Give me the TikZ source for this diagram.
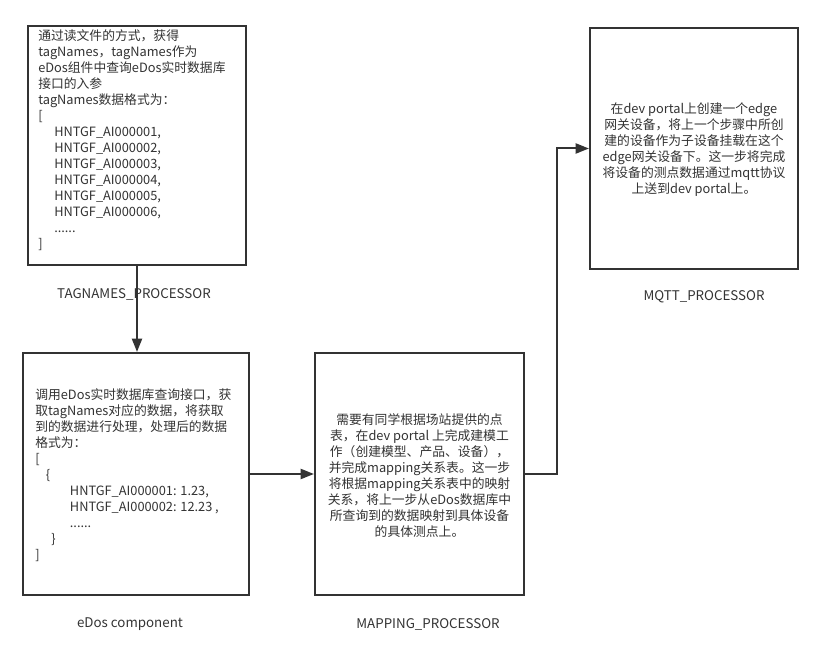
\documentclass[tikz,border=0pt]{standalone}
\usepackage{fontspec}
\setmainfont{Noto Sans CJK SC}
\usetikzlibrary{arrows.meta}
\definecolor{linec}{HTML}{333333}
\definecolor{textc}{HTML}{333333}
\tikzset{
  px/.style={x=0.75pt,y=-0.75pt},
  procbox/.style={draw=linec,line width=1.5pt,fill=white,inner sep=0pt},
  boxtext/.style={text=textc,inner sep=0pt,font=\fontsize{9.6pt}{12pt}\selectfont},
  lbl/.style={text=textc,inner sep=0pt,font=\fontsize{10pt}{12pt}\selectfont},
  conn/.style={draw=linec,line width=1.5pt,-{Triangle[length=10pt,width=7.5pt]}}
}
\begin{document}
\begin{tikzpicture}[px]
\useasboundingbox (0,0) rectangle (822,666);
% boxes
\node[procbox,minimum width=218*0.75pt,minimum height=239*0.75pt] (b1) at (137,145.5) {};
\node[procbox,minimum width=226*0.75pt,minimum height=242*0.75pt] (b2) at (136,474) {};
\node[procbox,minimum width=209*0.75pt,minimum height=242*0.75pt] (b3) at (419.5,474) {};
\node[procbox,minimum width=208*0.75pt,minimum height=241*0.75pt] (b4) at (694,148.5) {};
% texts
\node[boxtext,anchor=north west,align=left] (t1) at (38,29) {通过读文件的方式，获得\\
tagNames，tagNames作为\\
eDos组件中查询eDos实时数据库\\
接口的入参\\
tagNames数据格式为：\\
{[}\\
\hspace*{12pt}HNTGF\_AI000001,\\
\hspace*{12pt}HNTGF\_AI000002,\\
\hspace*{12pt}HNTGF\_AI000003,\\
\hspace*{12pt}HNTGF\_AI000004,\\
\hspace*{12pt}HNTGF\_AI000005,\\
\hspace*{12pt}HNTGF\_AI000006,\\
\hspace*{12pt}......\\
{]}};
\node[boxtext,anchor=north west,align=left] (t2) at (35,388) {调用eDos实时数据库查询接口，获\\
取tagNames对应的数据，将获取\\
到的数据进行处理，处理后的数据\\
格式为：\\
{[}\\
\hspace*{8pt}\{\\
\hspace*{26pt}HNTGF\_AI000001: 1.23,\\
\hspace*{26pt}HNTGF\_AI000002: 12.23 ,\\
\hspace*{26pt}......\\
\hspace*{12pt}\}\\
{]}};
\node[boxtext,align=center] (t3) at (419.5,476) {需要有同学根据场站提供的点\\
表，在dev portal 上完成建模工\\
作（创建模型、产品、设备），\\
并完成mapping关系表。这一步\\
将根据mapping关系表中的映射\\
关系，将上一步从eDos数据库中\\
所查询到的数据映射到具体设备\\
的具体测点上。};
\node[boxtext,align=center] (t4) at (694,150) {在dev portal上创建一个edge\\
网关设备，将上一个步骤中所创\\
建的设备作为子设备挂载在这个\\
edge网关设备下。这一步将完成\\
将设备的测点数据通过mqtt协议\\
上送到dev portal上。};
% labels
\node[lbl] (l1) at (134,294) {TAGNAMES\_PROCESSOR};
\node[lbl] (l2) at (130,624) {eDos component};
\node[lbl] (l3) at (428,624) {MAPPING\_PROCESSOR};
\node[lbl] (l4) at (704,297) {MQTT\_PROCESSOR};
% connectors
\draw[conn] (b1.south) -- (b2.north -| b1.south);
\draw[conn] (b2.east) -- (b3.west);
\coordinate (k) at (557,474);
\draw[conn] (b3.east) -- (k) |- (b4.west);
\end{tikzpicture}
\end{document}
